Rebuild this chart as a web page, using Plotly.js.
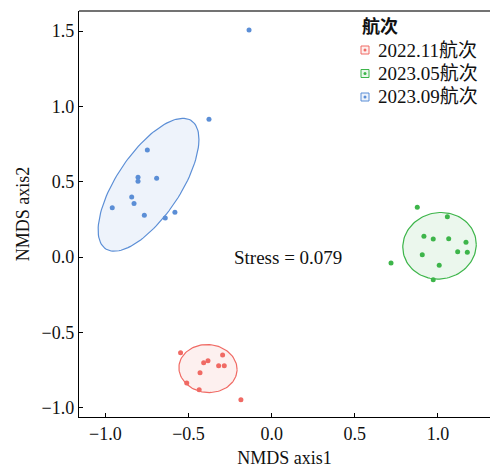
<!DOCTYPE html>
<html><head><meta charset="utf-8">
<script src="https://cdn.plot.ly/plotly-3.0.1.min.js"></script>
<style>html,body{margin:0;padding:0;background:#fff}</style>
</head><body>
<div id="chart" style="width:490px;height:468px"></div>
<script>
// ---- data ----
const groupNames = ['2022.11航次', '2023.05航次', '2023.09航次'];
const groupColors = ['#F06A64', '#3DB54A', '#5B8ED6'];
const x2211 = [-0.548, -0.295, -0.409, -0.383, -0.319, -0.285, -0.431, -0.511, -0.436, -0.185];
const y2211 = [-0.635, -0.651, -0.702, -0.688, -0.722, -0.722, -0.768, -0.837, -0.881, -0.948];
const x2305 = [0.876, 1.057, 0.916, 0.972, 1.065, 1.169, 1.119, 1.177, 0.906, 1.008, 0.972, 0.718];
const y2305 = [0.330, 0.268, 0.137, 0.120, 0.122, 0.098, 0.035, 0.031, 0.015, -0.055, -0.151, -0.040];
const x2309 = [-0.377, -0.748, -0.804, -0.804, -0.692, -0.842, -0.828, -0.959, -0.766, -0.640, -0.582, -0.136];
const y2309 = [0.914, 0.710, 0.529, 0.503, 0.522, 0.398, 0.356, 0.327, 0.277, 0.259, 0.297, 1.507];
const legendTitle = '航次';
const stressText = 'Stress = 0.079';
const stressPos = [0.10, 0.0];
const xTickVals = [-1.0, -0.5, 0.0, 0.5, 1.0];
const yTickVals = [-1.0, -0.5, 0.0, 0.5, 1.0, 1.5];
const xTitle = 'NMDS axis1';
const yTitle = 'NMDS axis2';
const ellipseLevel = 0.80;

// ---- robust t covariance (like MASS::cov.trob) + stat_ellipse ----
function covTrob(xs, ys, nu, maxit, tol) {
  const n = xs.length, p = 2;
  let w = xs.map(() => 1);
  let lx = xs.reduce((a, b) => a + b, 0) / n, ly = ys.reduce((a, b) => a + b, 0) / n;
  let X = [];
  for (let it = 0; it < maxit; it++) {
    const w0 = w.slice();
    X = xs.map((v, i) => [v - lx, ys[i] - ly]);
    const sw = w.reduce((a, b) => a + b, 0);
    let a = 0, b = 0, d = 0;
    X.forEach((r, i) => { const f = w[i] / sw; a += f * r[0] * r[0]; b += f * r[0] * r[1]; d += f * r[1] * r[1]; });
    const det = a * d - b * b;
    const ia = d / det, ib = -b / det, id = a / det;
    const Q = X.map(r => r[0] * r[0] * ia + 2 * r[0] * r[1] * ib + r[1] * r[1] * id);
    w = Q.map(q => (nu + p) / (nu + q));
    const sw2 = w.reduce((s, v) => s + v, 0);
    lx = xs.reduce((s, v, i) => s + w[i] * v, 0) / sw2;
    ly = ys.reduce((s, v, i) => s + w[i] * v, 0) / sw2;
    if (w.every((v, i) => Math.abs(v - w0[i]) < tol)) break;
  }
  let a = 0, b = 0, d = 0;
  X.forEach((r, i) => { a += w[i] * r[0] * r[0]; b += w[i] * r[0] * r[1]; d += w[i] * r[1] * r[1]; });
  return { center: [lx, ly], cov: [a / n, b / n, d / n] };
}
function ellipsePath(xs, ys, level) {
  const n = xs.length;
  const est = covTrob(xs, ys, 5, 25, 0.01);
  const d2 = n - 1;
  const fq = d2 / 2 * (Math.pow(1 - level, -2 / d2) - 1);
  const radius = Math.sqrt(2 * fq);
  const [a, b, d] = est.cov;
  const r11 = Math.sqrt(a), r12 = b / r11, r22 = Math.sqrt(d - r12 * r12);
  const ex = [], ey = [];
  const seg = 120;
  for (let k = 0; k <= seg; k++) {
    const t = 2 * Math.PI * k / seg;
    const c = Math.cos(t), s = Math.sin(t);
    ex.push(est.center[0] + radius * c * r11);
    ey.push(est.center[1] + radius * (c * r12 + s * r22));
  }
  return { ex, ey };
}
function hexA(hex, al) {
  const r = parseInt(hex.slice(1, 3), 16), g = parseInt(hex.slice(3, 5), 16), b = parseInt(hex.slice(5, 7), 16);
  return `rgba(${r},${g},${b},${al})`;
}

const groupX = [x2211, x2305, x2309];
const groupY = [y2211, y2305, y2309];
const traces = [];
groupX.forEach((gx, i) => {
  const e = ellipsePath(gx, groupY[i], ellipseLevel);
  traces.push({ x: e.ex, y: e.ey, type: 'scatter', mode: 'lines', fill: 'toself',
    fillcolor: hexA(groupColors[i], 0.1), line: { color: groupColors[i], width: 1.2 },
    hoverinfo: 'skip', showlegend: false });
});
groupX.forEach((gx, i) => {
  traces.push({ x: gx, y: groupY[i], type: 'scatter', mode: 'markers', name: groupNames[i],
    marker: { color: groupColors[i], size: 5 }, showlegend: false });
});

// plot area in px: x 79..490, y 11..417
const PL = 79, PR = 490, PT = 11, PB = 417;
const px = v => (v - PL) / (PR - PL);
const py = v => (PB - v) / (PB - PT);
const FONT = 'Liberation Serif, "Noto Sans CJK SC", serif';

const shapes = [
  { type: 'line', xref: 'paper', yref: 'paper', x0: 0, x1: 1, y0: 1, y1: 1, line: { color: '#444', width: 1.5 } }
];
const annotations = [
  { x: stressPos[0], y: stressPos[1], xref: 'x', yref: 'y', text: stressText, showarrow: false,
    font: { family: FONT, size: 19, color: '#111' }, xanchor: 'center', yanchor: 'middle' },
  { x: px(360), y: py(26), xref: 'paper', yref: 'paper', text: '<b>' + legendTitle + '</b>', showarrow: false,
    font: { family: FONT, size: 18, color: '#111' }, xanchor: 'left', yanchor: 'middle' }
];
const legendRows = [50, 73.5, 97];
groupNames.forEach((nm, i) => {
  const cy = py(legendRows[i]);
  shapes.push({ type: 'rect', xref: 'paper', yref: 'paper', xsizemode: 'pixel', ysizemode: 'pixel',
    xanchor: px(365), yanchor: cy, x0: -4, x1: 4, y0: -4, y1: 4,
    fillcolor: hexA(groupColors[i], 0.1), line: { color: groupColors[i], width: 1 } });
  shapes.push({ type: 'circle', xref: 'paper', yref: 'paper', xsizemode: 'pixel', ysizemode: 'pixel',
    xanchor: px(365), yanchor: cy, x0: -1.5, x1: 1.5, y0: -1.5, y1: 1.5,
    fillcolor: groupColors[i], line: { width: 0 } });
  annotations.push({ x: px(376), y: cy, xref: 'paper', yref: 'paper', text: nm, showarrow: false,
    font: { family: FONT, size: 19, color: '#111' }, xanchor: 'left', yanchor: 'middle' });
});

const axisCommon = {
  showgrid: false, zeroline: false, showline: true, linecolor: '#000', linewidth: 1.2,
  ticks: 'inside', ticklen: 4, tickcolor: '#000', tickwidth: 1,
  tickfont: { family: FONT, size: 18, color: '#111' }, tickformat: '.1f'
};
const layout = {
  width: 490, height: 468,
  margin: { l: PL, r: 490 - PR, t: PT, b: 468 - PB },
  paper_bgcolor: '#fff', plot_bgcolor: '#fff',
  showlegend: false,
  xaxis: Object.assign({}, axisCommon, { range: [-1.159, 1.3135], tickvals: xTickVals,
    title: { text: xTitle, font: { family: FONT, size: 18, color: '#111' }, standoff: 11 } }),
  yaxis: Object.assign({}, axisCommon, { range: [-1.062, 1.633], tickvals: yTickVals,
    title: { text: yTitle, font: { family: FONT, size: 18, color: '#111' }, standoff: 7 } }),
  shapes, annotations
};
Plotly.newPlot('chart', traces, layout, { displayModeBar: false, staticPlot: true });
</script>
</body></html>
